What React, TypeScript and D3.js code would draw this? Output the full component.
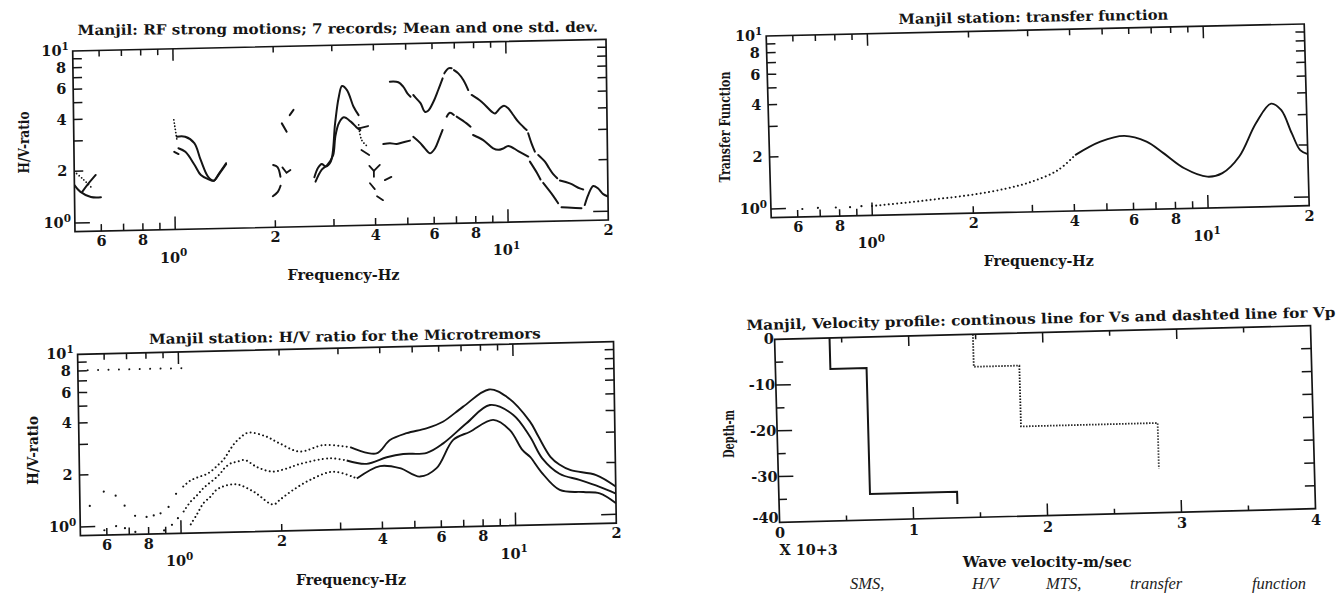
import React from "react";
import * as d3 from "d3";

type Pt = [number, number];

// ---------- values ----------

// Manjil RF strong motions: mean+std (upper) and mean (lower), the plot is broken into pieces
const rfUpper: Pt[][] = [
  [[0.528, 1.52], [0.55, 1.68], [0.58, 1.89]],
  [[1.02, 3.08], [1.08, 3.07], [1.15, 2.81], [1.2, 2.24], [1.26, 1.79], [1.31, 1.69], [1.36, 1.86], [1.43, 2.13]],
  [[1.98, 2.05], [2.04, 1.99], [2.08, 1.75]],
  [[2.11, 3.57], [2.18, 3.19]],
  [[2.23, 3.98], [2.29, 4.26]],
  [[2.63, 1.72], [2.7, 1.95], [2.77, 2.05], [2.85, 1.98], [2.95, 2.11], [3.05, 3.52], [3.13, 4.91], [3.21, 5.78], [3.32, 5.47], [3.47, 4.37], [3.59, 3.9]],
  [[4.47, 6.04], [4.74, 5.98], [4.9, 5.63], [5.04, 5.14], [5.15, 4.91]],
  [[5.25, 5.02], [5.39, 4.73], [5.52, 4.48], [5.68, 4.0], [5.81, 4.05], [6.03, 4.56], [6.24, 5.33], [6.44, 6.22]],
  [[6.52, 6.65], [6.71, 7.1], [6.86, 7.1]],
  [[6.97, 6.93], [7.18, 6.62], [7.43, 6.05], [7.68, 5.28]],
  [[7.86, 4.94], [8.41, 4.5], [9.01, 3.93], [9.22, 3.83], [9.55, 4.1], [9.82, 4.24], [10.11, 4.09], [10.46, 3.73], [10.82, 3.41], [11.19, 3.18], [11.46, 3.04]],
  [[11.58, 2.91], [11.84, 2.54], [12.11, 2.27]],
  [[12.39, 2.17], [12.97, 1.98], [13.35, 1.81], [13.72, 1.67], [14.1, 1.58]],
  [[14.36, 1.53], [15.38, 1.47], [16.47, 1.37], [16.86, 1.35]],
];

const rfLower: Pt[][] = [
  [[0.5, 1.66], [0.52, 1.52], [0.56, 1.41], [0.6, 1.4]],
  [[1.0, 2.52], [1.03, 2.44]],
  [[1.03, 2.64], [1.08, 2.51], [1.15, 2.1], [1.2, 1.83], [1.26, 1.73], [1.31, 1.69], [1.36, 1.84], [1.43, 2.1]],
  [[1.97, 1.35], [2.04, 1.43], [2.08, 1.55]],
  [[2.65, 1.62], [2.77, 1.9], [2.88, 2.02], [3.0, 2.3], [3.05, 2.94], [3.13, 3.52], [3.24, 3.8], [3.4, 3.58], [3.56, 3.27], [3.63, 3.19]],
  [[4.25, 2.63], [4.45, 2.65], [4.66, 2.62], [4.82, 2.66], [5.11, 2.73]],
  [[5.23, 2.87], [5.47, 2.65], [5.66, 2.45], [5.86, 2.29], [6.07, 2.44], [6.26, 2.79], [6.41, 3.12]],
  [[6.6, 3.72], [6.75, 3.92], [6.94, 3.8]],
  [[7.07, 3.71], [7.57, 3.38], [7.78, 3.23]],
  [[7.91, 2.89], [8.48, 2.69], [9.08, 2.4], [9.4, 2.35], [9.73, 2.39], [10.08, 2.47], [10.79, 2.3], [11.56, 2.13]],
  [[11.69, 1.99], [12.28, 1.7], [12.56, 1.56]],
  [[12.79, 1.49], [13.69, 1.25], [14.16, 1.13]],
  [[14.49, 1.07], [15.52, 1.06], [16.63, 1.05]],
  [[17.02, 1.095], [17.44, 1.25], [18.07, 1.41], [18.7, 1.36], [19.35, 1.26], [20, 1.22]],
];

const rfDotted: Pt[][] = [
  [[0.5, 1.99], [0.53, 1.8], [0.566, 1.58]],
  [[1.0, 3.86], [1.02, 2.95]],
  [[3.59, 3.42], [3.66, 2.79], [3.83, 2.53]],
];

const rfStray: Pt[][] = [
  [[2.11, 1.98], [2.17, 1.84], [2.23, 1.91]],
  [[3.62, 3.27], [3.83, 3.36]],
  [[3.65, 2.44], [3.85, 2.28]],
  [[3.85, 1.97], [3.97, 1.84], [4.14, 1.99]],
  [[3.97, 1.84], [3.97, 1.7]],
  [[4.28, 1.62], [4.48, 1.69]],
  [[3.86, 1.56], [3.99, 1.44]],
  [[4.05, 1.31], [4.22, 1.24]],
];

// Manjil microtremors H/V: mean + std, mean, mean - std
const mtUpper: Pt[] = [
  [0.535, 1.32], [0.59, 1.59], [0.64, 1.5], [0.68, 1.31], [0.73, 1.14], [0.79, 1.12], [0.83, 1.14], [0.87, 1.17],
  [0.92, 1.27], [0.97, 1.51], [1.02, 1.66], [1.07, 1.79], [1.13, 1.87], [1.21, 1.96], [1.3, 2.19], [1.36, 2.39],
  [1.41, 2.66], [1.46, 2.91], [1.51, 3.1], [1.6, 3.33], [1.8, 3.17], [1.99, 2.86], [2.28, 2.55], [2.69, 2.76],
  [3.23, 2.66], [3.87, 2.43], [4.25, 2.89], [4.77, 3.15], [5.47, 3.34], [6.13, 3.63], [7.06, 4.41], [8.45, 5.5],
  [9.53, 4.97], [11.15, 3.55], [11.8, 2.9], [12.8, 2.2], [13.6, 1.98], [14.7, 1.83], [17.5, 1.7], [20, 1.45],
];
const mtMean: Pt[] = [
  [0.59, 0.95], [0.64, 1.0], [0.68, 0.97], [0.73, 0.92], [0.89, 0.93], [0.94, 1.0], [0.98, 1.09], [1.02, 1.19],
  [1.07, 1.35], [1.12, 1.47], [1.17, 1.61], [1.21, 1.7], [1.28, 1.85], [1.32, 1.96], [1.36, 2.1], [1.42, 2.23],
  [1.48, 2.27], [1.56, 2.32], [1.7, 2.1], [1.88, 1.97], [2.06, 2.03], [2.28, 2.16], [2.81, 2.31], [3.15, 2.23],
  [3.61, 2.12], [4.15, 2.3], [4.65, 2.39], [5.47, 2.41], [6.13, 2.72], [7.21, 3.53], [8.49, 4.47], [9.96, 3.89],
  [11.15, 2.89], [12.1, 2.16], [13.6, 1.75], [15.6, 1.6], [17.9, 1.45], [20, 1.32],
];
const mtLower: Pt[] = [
  [1.07, 1.0], [1.12, 1.15], [1.17, 1.32], [1.23, 1.44], [1.28, 1.57], [1.33, 1.63], [1.39, 1.67], [1.48, 1.68],
  [1.66, 1.51], [1.89, 1.27], [1.99, 1.36], [2.17, 1.53], [2.44, 1.74], [2.87, 1.93], [3.37, 1.75], [3.96, 2.05],
  [4.54, 1.98], [5.2, 1.76], [5.84, 1.96], [6.57, 2.84], [7.38, 3.15], [8.67, 3.66], [9.71, 3.18], [10.56, 2.43],
  [11.15, 2.2], [12.0, 1.8], [13.6, 1.41], [16.0, 1.36], [17.9, 1.33], [20, 1.16],
];
const mtMarker: Pt[] = [[0.535, 8.05], [1.02, 8.05]];

// Manjil transfer function
const transfer: Pt[] = [
  [0.62, 0.99], [0.69, 1.0], [0.78, 1.0], [0.86, 1.0], [0.93, 1.01], [1.0, 1.01], [1.3, 1.05], [1.6, 1.09],
  [2.0, 1.14], [2.5, 1.22], [3.0, 1.33], [3.6, 1.54], [4.06, 1.87], [4.84, 2.22], [5.71, 2.38], [6.64, 2.19],
  [7.44, 1.87], [8.56, 1.52], [10.0, 1.35], [11.1, 1.41], [12.5, 1.75], [14.1, 2.71], [15.7, 3.5], [16.8, 3.21],
  [18.0, 2.34], [19.0, 1.87], [20, 1.77],
];

// velocity profile, x in 10^3 m/s, depth in m
const vsProfile: Pt[] = [[0.41, 0], [0.41, -6.8], [0.68, -6.8], [0.68, -34.3], [1.33, -34.3], [1.33, -37]];
const vpProfile: Pt[] = [[1.48, 0], [1.48, -7.1], [1.82, -7.1], [1.82, -20.4], [2.84, -20.4], [2.84, -30.4]];

// tick labels
const freqLabels = [
  { v: 0.6, t: "6" }, { v: 0.8, t: "8" }, { v: 1, t: "10", sup: "0" }, { v: 2, t: "2" }, { v: 4, t: "4" },
  { v: 6, t: "6" }, { v: 8, t: "8" }, { v: 10, t: "10", sup: "1" }, { v: 20, t: "2" },
];
const ratioLabels = [
  { v: 10, t: "10", sup: "1" }, { v: 8, t: "8" }, { v: 6, t: "6" }, { v: 4, t: "4" }, { v: 2, t: "2" },
  { v: 1, t: "10", sup: "0" },
];
const velLabels = [0, 1, 2, 3, 4];
const depthLabels = [0, -10, -20, -30, -40];
const captionWords = ["SMS,", "H/V", "MTS,", "transfer", "function"];

// ---------- layout ----------
const FONT = "'DejaVu Serif', 'Liberation Serif', serif";
const INK = "#151515";
const LOG_X: [number, number] = [0.5, 20];
const LOG_Y: [number, number] = [0.89, 10];
const SPARSE_BELOW = 1.0;
const TICK_FONT = 14.5;

type Corners = { tl: Pt; tr: Pt; bl: Pt };

// the scan is slightly skewed, each frame is an affine map of a plain rectangle
function frameOf(c: Corners) {
  const W = c.tr[0] - c.tl[0];
  const H = c.bl[1] - c.tl[1];
  const b = (c.tr[1] - c.tl[1]) / W;
  const k = (c.bl[0] - c.tl[0]) / H;
  const toPage = (x: number, y: number): Pt => [c.tl[0] + x + k * y, c.tl[1] + b * x + y];
  return { W, H, toPage, transform: `matrix(1 ${b} ${k} 1 ${c.tl[0]} ${c.tl[1]})` };
}

const Label = ({ p, t, sup, anchor = "middle", size = TICK_FONT }: { p: Pt; t: string; sup?: string; anchor?: string; size?: number }) => (
  <text x={p[0]} y={p[1]} textAnchor={anchor} fontSize={size} fontFamily={FONT} fontWeight="bold" fill={INK}>
    {t}
    {sup && <tspan dy={-6.5} fontSize={size * 0.72}>{sup}</tspan>}
  </text>
);

const Title = ({ from, to, text }: { from: Pt; to: Pt; text: string }) => {
  const len = Math.hypot(to[0] - from[0], to[1] - from[1]);
  const ang = (Math.atan2(to[1] - from[1], to[0] - from[0]) * 180) / Math.PI;
  return (
    <text x={from[0]} y={from[1]} fontSize={14} fontFamily={FONT} fontWeight="bold" fill={INK}
      textLength={len} lengthAdjust="spacingAndGlyphs" transform={`rotate(${ang} ${from[0]} ${from[1]})`}>
      {text}
    </text>
  );
};

const AxisTitle = ({ p, text, len, vertical, size = 15 }: { p: Pt; text: string; len: number; vertical?: boolean; size?: number }) => (
  <text transform={`translate(${p[0]},${p[1]})${vertical ? " rotate(-90)" : ""}`} textAnchor="middle"
    fontSize={size} fontFamily={FONT} fontWeight="bold" fill={INK} textLength={len} lengthAdjust="spacingAndGlyphs">
    {text}
  </text>
);

type Scales = { xs: d3.ScaleLogarithmic<number, number>; ys: d3.ScaleLogarithmic<number, number> };

function LogPanel({ id, corners, title, xTitle, yTitle, draw }: {
  id: string; corners: Corners;
  title: { from: Pt; to: Pt; text: string };
  xTitle: { p: Pt; len: number }; yTitle: { p: Pt; text: string; len: number };
  draw: (s: Scales) => React.ReactNode;
}) {
  const f = frameOf(corners);
  const xs = d3.scaleLog().domain(LOG_X).range([0, f.W]);
  const ys = d3.scaleLog().domain(LOG_Y).range([f.H, 0]);
  const major = (v: number) => Math.abs(Math.log10(v) - Math.round(Math.log10(v))) < 1e-6;
  const xt = xs.ticks().filter((v) => v > LOG_X[0] && v < LOG_X[1]);
  const yt = ys.ticks().filter((v) => v >= 1 && v < LOG_Y[1]);
  return (
    <g>
      <g transform={f.transform} stroke={INK} fill="none">
        <clipPath id={id}><rect width={f.W} height={f.H} /></clipPath>
        <rect width={f.W} height={f.H} strokeWidth={1.7} />
        {xt.map((v) => {
          const x = xs(v);
          const L = major(v) ? 13 : 7;
          return (
            <g key={"x" + v} strokeWidth={1.5}>
              <line x1={x} x2={x} y1={f.H} y2={f.H - L} />
              <line x1={x} x2={x} y1={0} y2={L - 1} />
            </g>
          );
        })}
        {yt.map((v) => {
          const y = ys(v);
          const L = major(v) ? 15 : 9;
          return (
            <g key={"y" + v} strokeWidth={1.5}>
              <line x1={0} x2={L} y1={y} y2={y} />
              <line x1={f.W} x2={f.W - L} y1={y} y2={y} />
            </g>
          );
        })}
        <g clipPath={`url(#${id})`}>{draw({ xs, ys })}</g>
      </g>
      {freqLabels.map((d, i) => (
        <Label key={"fl" + i} t={d.t} sup={d.sup} p={d.sup ? f.toPage(xs(d.v) - 2, f.H + 33) : f.toPage(xs(d.v), f.H + 15)} />
      ))}
      {ratioLabels.map((d, i) => (
        <Label key={"rl" + i} t={d.t} sup={d.sup} anchor="end" p={f.toPage(d.sup ? -4 : -7, ys(d.v) + 5)} />
      ))}
      <Title {...title} />
      <AxisTitle p={xTitle.p} text="Frequency-Hz" len={xTitle.len} />
      <AxisTitle p={yTitle.p} text={yTitle.text} len={yTitle.len} vertical />
    </g>
  );
}

const lineOf = ({ xs, ys }: Scales, curve = true) =>
  d3.line<Pt>().x((d) => xs(d[0])).y((d) => ys(d[1])).curve(curve ? d3.curveCatmullRom : d3.curveLinear);

const DOTS = { strokeDasharray: "0.01 4.2", strokeLinecap: "round" as const, strokeWidth: 2 };

function splitAt(pts: Pt[], f: number): [Pt[], Pt[]] {
  const i = pts.findIndex((p) => p[0] >= f);
  return i < 0 ? [pts, []] : [pts.slice(0, i + 1), pts.slice(i)];
}

// curve drawn as loose dots at low frequency, dotted line, then solid
function SampledCurve({ s, pts, solidFrom }: { s: Scales; pts: Pt[]; solidFrom: number }) {
  const sparse = pts.filter((p) => p[0] < SPARSE_BELOW);
  const rest = pts.filter((p) => p[0] >= SPARSE_BELOW);
  const [dotted, solid] = splitAt(rest, solidFrom);
  const line = lineOf(s);
  return (
    <g>
      {sparse.map((p, i) => <circle key={i} cx={s.xs(p[0])} cy={s.ys(p[1])} r={1.1} fill={INK} stroke="none" />)}
      <path d={line(dotted) ?? ""} {...DOTS} />
      <path d={line(solid) ?? ""} strokeWidth={1.9} />
    </g>
  );
}

function VelocityPanel({ corners }: { corners: Corners }) {
  const f = frameOf(corners);
  const xs = d3.scaleLinear().domain([0, 4]).range([0, f.W]);
  const ys = d3.scaleLinear().domain([-40, 0]).range([f.H, 0]);
  const line = d3.line<Pt>().x((d) => xs(d[0])).y((d) => ys(d[1]));
  const xt = xs.ticks(8).filter((v) => v > 0 && v < 4);
  const yt = ys.ticks(8).filter((v) => v > -40 && v < 0);
  return (
    <g>
      <g transform={f.transform} stroke={INK} fill="none">
        <rect width={f.W} height={f.H} strokeWidth={1.7} />
        {xt.map((v) => {
          const x = xs(v);
          const maj = Number.isInteger(v);
          return (
            <g key={"x" + v} strokeWidth={1.5}>
              <line x1={x} x2={x} y1={f.H} y2={f.H - (maj ? 12 : 5)} />
              <line x1={x} x2={x} y1={0} y2={maj ? 10 : 5} />
            </g>
          );
        })}
        {yt.map((v) => {
          const y = ys(v);
          const maj = v % 10 === 0;
          return (
            <g key={"y" + v} strokeWidth={1.5}>
              <line x1={0} x2={maj ? 15 : 8} y1={y} y2={y} />
              <line x1={f.W} x2={f.W - 10} y1={y} y2={y} />
            </g>
          );
        })}
        <path d={line(vsProfile) ?? ""} strokeWidth={2} />
        <path d={line(vpProfile) ?? ""} strokeWidth={1.8} strokeDasharray="1.4 1.6" />
      </g>
      {velLabels.map((v) => <Label key={"v" + v} t={String(v)} p={f.toPage(xs(v), f.H + 16)} />)}
      {depthLabels.map((v) => <Label key={"d" + v} t={String(v)} anchor="end" p={f.toPage(-1, ys(v) + (v === -40 ? 1 : 5))} />)}
      <Title from={[746.4, 330]} to={[1335.5, 317]} text="Manjil, Velocity profile: continous line for Vs and dashted line for Vp" />
      <AxisTitle p={[1047.2, 567]} text="Wave velocity-m/sec" len={169} />
      <AxisTitle p={[733.5, 434]} text="Depth-m" len={48} vertical />
      <AxisTitle p={[808.6, 555]} text="X 10+3" len={58} />
    </g>
  );
}

const captionX = [850, 972, 1046, 1130, 1252];

export default function App() {
  return (
    <svg width={1339} height={593} style={{ position: "absolute", left: 0, top: 0, display: "block" }}>
      <rect width={1339} height={593} fill="#fff" />

      <LogPanel
        id="clip-rf"
        corners={{ tl: [72.7, 51], tr: [606, 39.3], bl: [75, 231.7] }}
        title={{ from: [77.6, 35], to: [598, 31.7], text: "Manjil: RF strong motions; 7 records; Mean and one std. dev." }}
        xTitle={{ p: [343.5, 279.5], len: 112 }}
        yTitle={{ p: [28.5, 142.5], text: "H/V-ratio", len: 62 }}
        draw={(s) => {
          const line = lineOf(s);
          return (
            <g strokeLinecap="round">
              {[...rfUpper, ...rfLower].map((seg, i) => <path key={"c" + i} d={line(seg) ?? ""} strokeWidth={2} />)}
              {rfStray.map((seg, i) => <path key={"s" + i} d={lineOf(s, false)(seg) ?? ""} strokeWidth={1.8} />)}
              {rfDotted.map((seg, i) => <path key={"d" + i} d={line(seg) ?? ""} strokeDasharray="0.01 3.2" strokeWidth={1.8} />)}
            </g>
          );
        }}
      />

      <LogPanel
        id="clip-mt"
        corners={{ tl: [77.6, 354.3], tr: [613.5, 341.7], bl: [80.4, 535.7] }}
        title={{ from: [149, 344], to: [540.8, 338.3], text: "Manjil station: H/V ratio for the Microtremors" }}
        xTitle={{ p: [351, 585], len: 110 }}
        yTitle={{ p: [37.5, 450.5], text: "H/V-ratio", len: 69 }}
        draw={(s) => (
          <g>
            <path d={lineOf(s, false)(mtMarker) ?? ""} strokeDasharray="0.01 10.4" strokeLinecap="round" strokeWidth={2} />
            <SampledCurve s={s} pts={mtUpper} solidFrom={3.1} />
            <SampledCurve s={s} pts={mtMean} solidFrom={3.1} />
            <SampledCurve s={s} pts={mtLower} solidFrom={3.1} />
          </g>
        )}
      />

      <LogPanel
        id="clip-tf"
        corners={{ tl: [766.2, 36], tr: [1304.2, 24], bl: [771.2, 217.7] }}
        title={{ from: [898.6, 24], to: [1168.4, 19.5], text: "Manjil station: transfer function" }}
        xTitle={{ p: [1038.8, 265.5], len: 110 }}
        yTitle={{ p: [730, 127], text: "Transfer Function", len: 111 }}
        draw={(s) => <SampledCurve s={s} pts={transfer} solidFrom={4.06} />}
      />

      <VelocityPanel corners={{ tl: [774.6, 339.3], tr: [1310.5, 325.7], bl: [779.6, 522.3] }} />

      <text y={589} fontFamily="'Liberation Serif', 'DejaVu Serif', serif" fontStyle="italic" fontSize={16.5} fill="#222">
        {captionWords.map((w, i) => <tspan key={w} x={captionX[i]}>{w}</tspan>)}
      </text>
    </svg>
  );
}
